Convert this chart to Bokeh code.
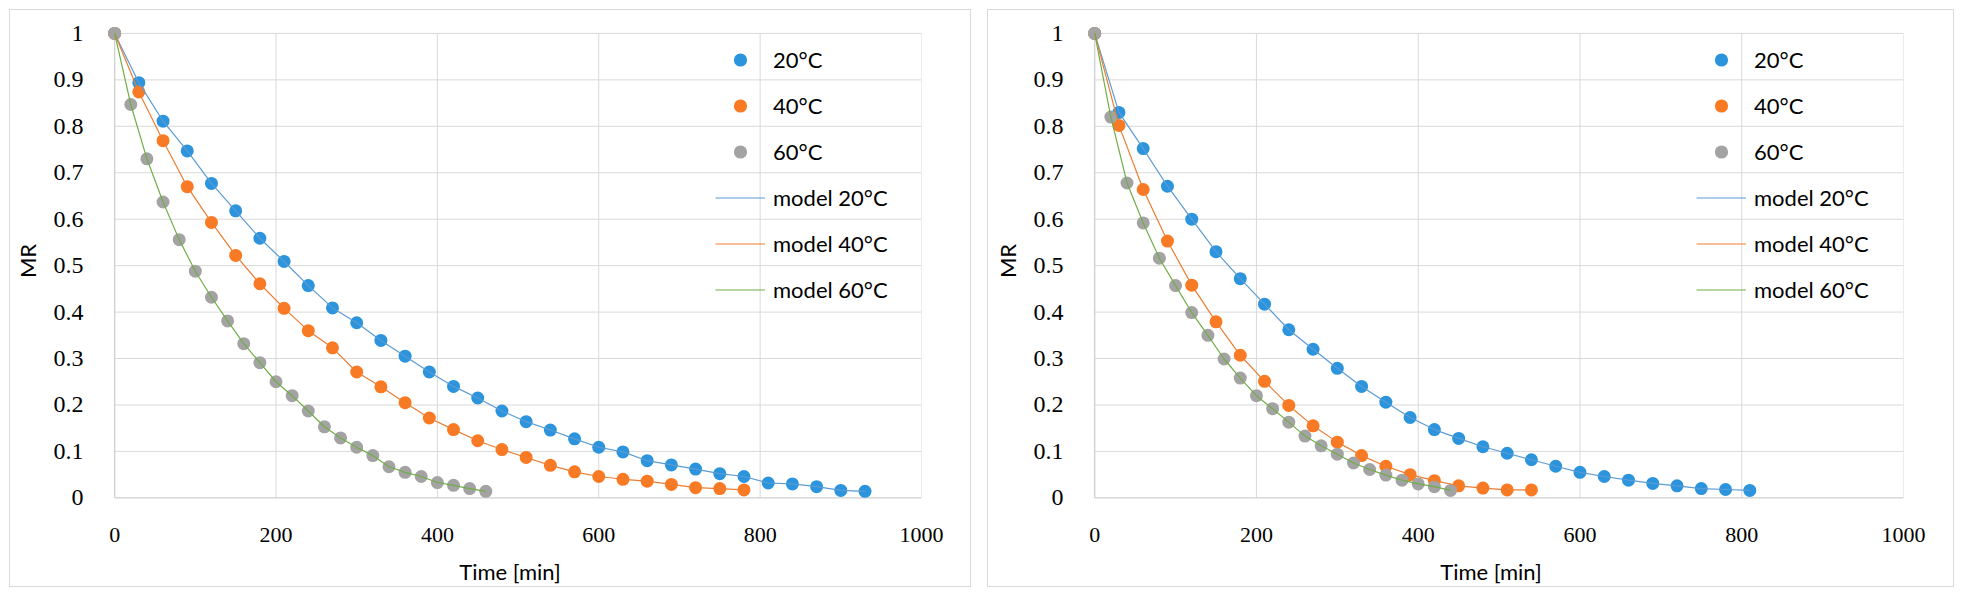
from bokeh.plotting import figure
from bokeh.models import FixedTicker, Legend, LegendItem, Spacer
from bokeh.layouts import row, column
from bokeh.embed import file_html
from bokeh.resources import INLINE

# ---------------- data ----------------
x_ticks = [0, 200, 400, 600, 800, 1000]
y_ticks = [0, 0.1, 0.2, 0.3, 0.4, 0.5, 0.6, 0.7, 0.8, 0.9, 1]
y_tick_labels = ["0", "0.1", "0.2", "0.3", "0.4", "0.5", "0.6", "0.7", "0.8", "0.9", "1"]

series_labels = ["20°C", "40°C", "60°C"]
model_labels = ["model 20°C", "model 40°C", "model 60°C"]

# left chart
t20_a = [0, 30, 60, 90, 120, 150, 180, 210, 240, 270, 300, 330, 360, 390, 420, 450,
         480, 510, 540, 570, 600, 630, 660, 690, 720, 750, 780, 810, 840, 870, 900, 930]
mr20_a = [1.0, 0.894, 0.811, 0.747, 0.677, 0.618, 0.559, 0.509, 0.457, 0.409, 0.377,
          0.339, 0.305, 0.271, 0.240, 0.215, 0.187, 0.164, 0.146, 0.127, 0.109, 0.099,
          0.080, 0.071, 0.062, 0.052, 0.046, 0.032, 0.030, 0.024, 0.016, 0.014]
t40_a = [0, 30, 60, 90, 120, 150, 180, 210, 240, 270, 300, 330, 360, 390, 420, 450,
         480, 510, 540, 570, 600, 630, 660, 690, 720, 750, 780]
mr40_a = [1.0, 0.874, 0.769, 0.670, 0.593, 0.522, 0.461, 0.408, 0.360, 0.323, 0.271,
          0.239, 0.205, 0.172, 0.147, 0.123, 0.104, 0.087, 0.070, 0.056, 0.046, 0.040,
          0.036, 0.029, 0.022, 0.020, 0.017]
t60_a = [0, 20, 40, 60, 80, 100, 120, 140, 160, 180, 200, 220, 240, 260, 280, 300,
         320, 340, 360, 380, 400, 420, 440, 460]
mr60_a = [1.0, 0.847, 0.730, 0.637, 0.556, 0.488, 0.432, 0.381, 0.332, 0.291, 0.250,
          0.220, 0.187, 0.153, 0.129, 0.109, 0.091, 0.067, 0.055, 0.046, 0.033, 0.027,
          0.020, 0.014]
model20_a = mr20_a
model40_a = mr40_a
model60_a = mr60_a

# right chart
t20_b = [0, 30, 60, 90, 120, 150, 180, 210, 240, 270, 300, 330, 360, 390, 420, 450,
         480, 510, 540, 570, 600, 630, 660, 690, 720, 750, 780, 810]
mr20_b = [1.0, 0.830, 0.752, 0.671, 0.600, 0.530, 0.472, 0.417, 0.362, 0.320, 0.279,
          0.240, 0.206, 0.173, 0.147, 0.128, 0.110, 0.096, 0.082, 0.068, 0.055, 0.046,
          0.038, 0.031, 0.026, 0.020, 0.018, 0.016]
t40_b = [0, 30, 60, 90, 120, 150, 180, 210, 240, 270, 300, 330, 360, 390, 420, 450,
         480, 510, 540]
mr40_b = [1.0, 0.802, 0.664, 0.553, 0.458, 0.379, 0.307, 0.251, 0.199, 0.155, 0.120,
          0.091, 0.068, 0.050, 0.037, 0.026, 0.021, 0.017, 0.017]
t60_b = [0, 20, 40, 60, 80, 100, 120, 140, 160, 180, 200, 220, 240, 260, 280, 300,
         320, 340, 360, 380, 400, 420, 440]
mr60_b = [1.0, 0.820, 0.678, 0.592, 0.516, 0.457, 0.399, 0.350, 0.299, 0.258, 0.220,
          0.192, 0.163, 0.133, 0.112, 0.094, 0.075, 0.061, 0.049, 0.038, 0.030, 0.024,
          0.016]
model20_b = mr20_b
model40_b = mr40_b
model60_b = mr60_b

# ---------------- style ----------------
MARKER_COLORS = ["#2B94DC", "#FA7A23", "#A3A3A3"]
LINE_COLORS = ["#5B9BD5", "#ED7D31", "#70AD47"]
GRID = "#d9d9d9"
AXIS = "#cfcfcf"
TICK_FONT = "Liberation Serif"
LABEL_FONT = "Lato"


def make_panel(obs, models, width, height, bl, br, bt, bb, legend_xy):
    p = figure(width=width, height=height, x_range=(-20, 1000), y_range=(-0.01, 1.03),
               output_backend="svg", toolbar_location=None,
               min_border_left=bl, min_border_right=br,
               min_border_top=bt, min_border_bottom=bb)
    p.styles = {"border": "1px solid #d9d9d9", "box-sizing": "border-box"}
    p.background_fill_color = "white"
    p.border_fill_color = "white"
    p.outline_line_color = None
    p.xgrid.visible = False
    p.ygrid.visible = False

    x0, x1 = x_ticks[0], x_ticks[-1]
    y0, y1 = y_ticks[0], y_ticks[-1]
    # grid lines limited to the data area
    vx = x_ticks[1:]
    p.segment(x0=vx, y0=[y0] * len(vx), x1=vx, y1=[y1] * len(vx),
              line_color=GRID, line_width=1)
    hy = y_ticks[1:]
    p.segment(x0=[x0] * len(hy), y0=hy, x1=[x1] * len(hy), y1=hy,
              line_color=GRID, line_width=1)
    # axis lines
    p.segment(x0=[x0, x0], y0=[y0, y0], x1=[x0, x1], y1=[y1, y0],
              line_color=AXIS, line_width=1.3)

    scat = []
    for (t, v), c in zip(obs, MARKER_COLORS):
        scat.append(p.scatter(t, v, size=13, fill_color=c, line_color=None))
    lines = []
    for (t, v), c in zip(models, LINE_COLORS):
        lines.append(p.line(t, v, line_color=c, line_width=1.2))

    p.xaxis.ticker = FixedTicker(ticks=x_ticks)
    p.yaxis.ticker = FixedTicker(ticks=y_ticks)
    p.yaxis.major_label_overrides = {v: s for v, s in zip(y_ticks, y_tick_labels)}
    for ax in (p.xaxis, p.yaxis):
        ax.axis_line_color = None
        ax.major_tick_line_color = None
        ax.minor_tick_line_color = None
        ax.major_label_text_font = TICK_FONT
        ax.major_label_text_color = "#000000"
        ax.axis_label_text_font = LABEL_FONT
        ax.axis_label_text_font_size = "22px"
        ax.axis_label_text_font_style = "normal"
        ax.axis_label_text_color = "#000000"
    p.xaxis.major_label_text_font_size = "22px"
    p.yaxis.major_label_text_font_size = "24px"
    p.xaxis.major_label_standoff = 19
    p.yaxis.major_label_standoff = 9
    p.xaxis.axis_label = "Time [min]"
    p.yaxis.axis_label = "MR"
    p.xaxis.axis_label_standoff = 13
    p.yaxis.axis_label_standoff = 10

    items = [LegendItem(label=l, renderers=[r]) for l, r in zip(series_labels, scat)]
    items += [LegendItem(label=l, renderers=[r]) for l, r in zip(model_labels, lines)]
    leg = Legend(items=items, location=legend_xy, orientation="vertical",
                 glyph_width=50, glyph_height=33, spacing=13, label_standoff=8,
                 padding=0, margin=0, border_line_color=None,
                 background_fill_alpha=0, label_text_font=LABEL_FONT,
                 label_text_font_size="22px", label_text_color="#000000")
    p.add_layout(leg)
    return p


left = make_panel([(t20_a, mr20_a), (t40_a, mr40_a), (t60_a, mr60_a)],
                  [(t20_a, model20_a), (t40_a, model40_a), (t60_a, model60_a)],
                  962, 578, 88, 51, 7, 86, (617, 196))
right = make_panel([(t20_b, mr20_b), (t40_b, mr40_b), (t60_b, mr60_b)],
                   [(t20_b, model20_b), (t40_b, model40_b), (t60_b, model60_b)],
                   967, 578, 90, 52, 9, 84, (618, 196))

layout = column(Spacer(width=10, height=9),
                row(Spacer(width=9, height=10), left, Spacer(width=16, height=10), right))
open("out.html", "w").write(file_html(layout, INLINE))
